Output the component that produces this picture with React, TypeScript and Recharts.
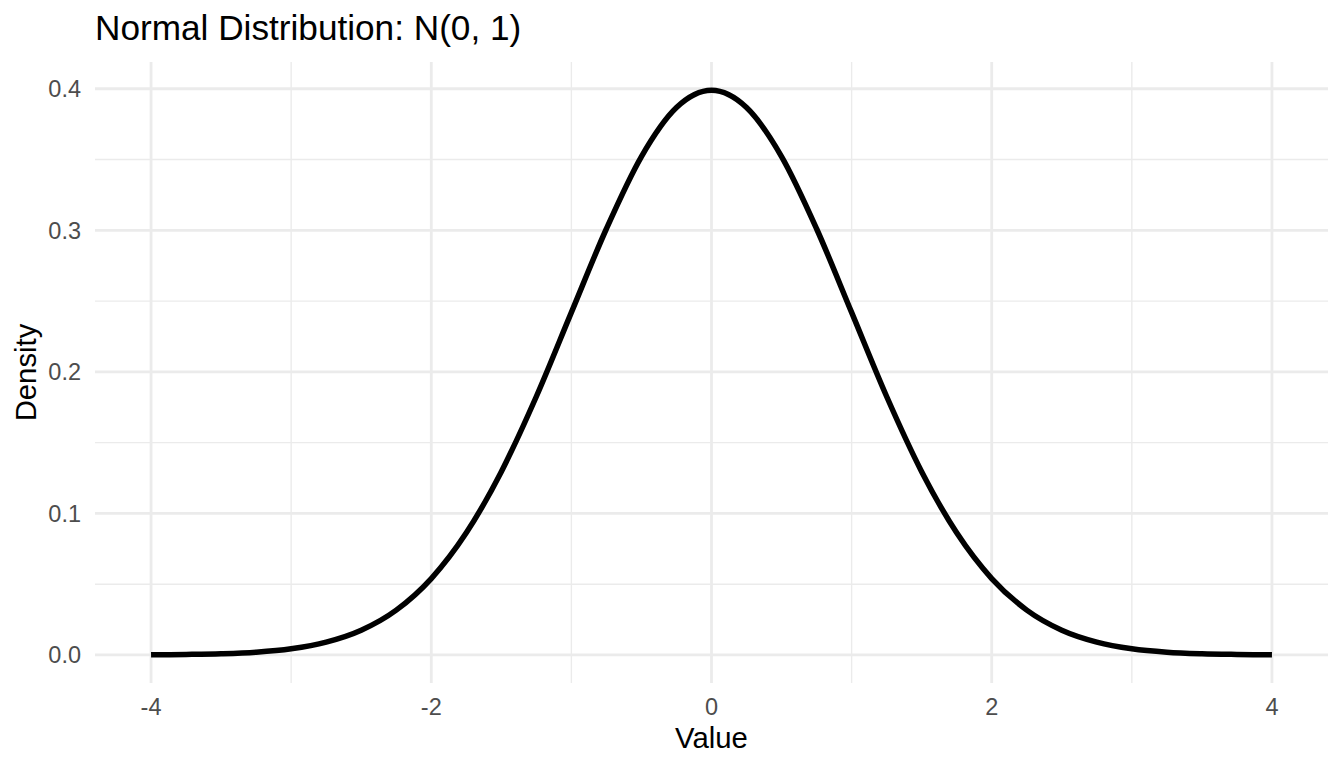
import React from 'react';
import { LineChart, Line, XAxis, YAxis, ReferenceLine, Label } from 'recharts';

// values, every 0.25 from -4 to 4
const xValues = [
  -4, -3.75, -3.5, -3.25, -3, -2.75, -2.5, -2.25, -2, -1.75, -1.5, -1.25, -1, -0.75, -0.5, -0.25,
  0, 0.25, 0.5, 0.75, 1, 1.25, 1.5, 1.75, 2, 2.25, 2.5, 2.75, 3, 3.25, 3.5, 3.75, 4,
];
const densityValues = [
  0.0001, 0.0004, 0.0009, 0.002, 0.0044, 0.0091, 0.0175, 0.0317, 0.054, 0.0863, 0.1295, 0.1826,
  0.242, 0.3011, 0.3521, 0.3867, 0.3989, 0.3867, 0.3521, 0.3011, 0.242, 0.1826, 0.1295, 0.0863,
  0.054, 0.0317, 0.0175, 0.0091, 0.0044, 0.002, 0.0009, 0.0004, 0.0001,
];

const xMajor = [-4, -2, 0, 2, 4];
const xMinor = [-3, -1, 1, 3];
const yMajor = [0, 0.1, 0.2, 0.3, 0.4];
const yMinor = [0.05, 0.15, 0.25, 0.35];

const data = xValues.map((x, i) => ({ x, density: densityValues[i] }));

const font = '"Liberation Sans", Arial, sans-serif';
const tickStyle = { fontSize: 23.5, fill: '#4D4D4D', fontFamily: font };
const grid = '#EBEBEB';

const App: React.FC = () => {
  return (
    <div style={{ position: 'absolute', left: 0, top: 0, width: 1344, height: 768, background: '#fff' }}>
      <div
        style={{
          position: 'absolute',
          left: 95,
          top: 8,
          fontFamily: font,
          fontSize: 35.2,
          color: '#000',
          lineHeight: '40px',
          whiteSpace: 'nowrap',
        }}
      >
        Normal Distribution: N(0, 1)
      </div>
      <LineChart
        width={1344}
        height={768}
        data={data}
        margin={{ top: 62, right: 16, bottom: 0, left: 0 }}
      >
        <XAxis
          dataKey='x'
          type='number'
          domain={[-4.4, 4.4]}
          ticks={xMajor}
          allowDataOverflow
          axisLine={false}
          tickLine={false}
          tickSize={0}
          tickMargin={15}
          height={85}
          tick={tickStyle}
        >
          <Label
            value='Value'
            position='insideBottom'
            offset={20}
            style={{ fontSize: 29.3, fill: '#000', fontFamily: font }}
          />
        </XAxis>
        <YAxis
          type='number'
          domain={[-0.0198, 0.4189]}
          ticks={yMajor}
          allowDataOverflow
          axisLine={false}
          tickLine={false}
          tickSize={0}
          tickMargin={14}
          width={95}
          tick={tickStyle}
          tickFormatter={(v: number) => v.toFixed(1)}
        >
          <Label
            value='Density'
            angle={-90}
            position='insideLeft'
            offset={26}
            style={{ fontSize: 29.3, fill: '#000', fontFamily: font, textAnchor: 'middle' }}
          />
        </YAxis>
        {xMinor.map((v) => (
          <ReferenceLine key={'xm' + v} x={v} stroke={grid} strokeWidth={1.4} />
        ))}
        {yMinor.map((v) => (
          <ReferenceLine key={'ym' + v} y={v} stroke={grid} strokeWidth={1.4} />
        ))}
        {xMajor.map((v) => (
          <ReferenceLine key={'xM' + v} x={v} stroke={grid} strokeWidth={2.8} />
        ))}
        {yMajor.map((v) => (
          <ReferenceLine key={'yM' + v} y={v} stroke={grid} strokeWidth={2.8} />
        ))}
        <Line
          type='monotone'
          dataKey='density'
          stroke='#000'
          strokeWidth={5.5}
          dot={false}
          isAnimationActive={false}
        />
      </LineChart>
    </div>
  );
};

export default App;
